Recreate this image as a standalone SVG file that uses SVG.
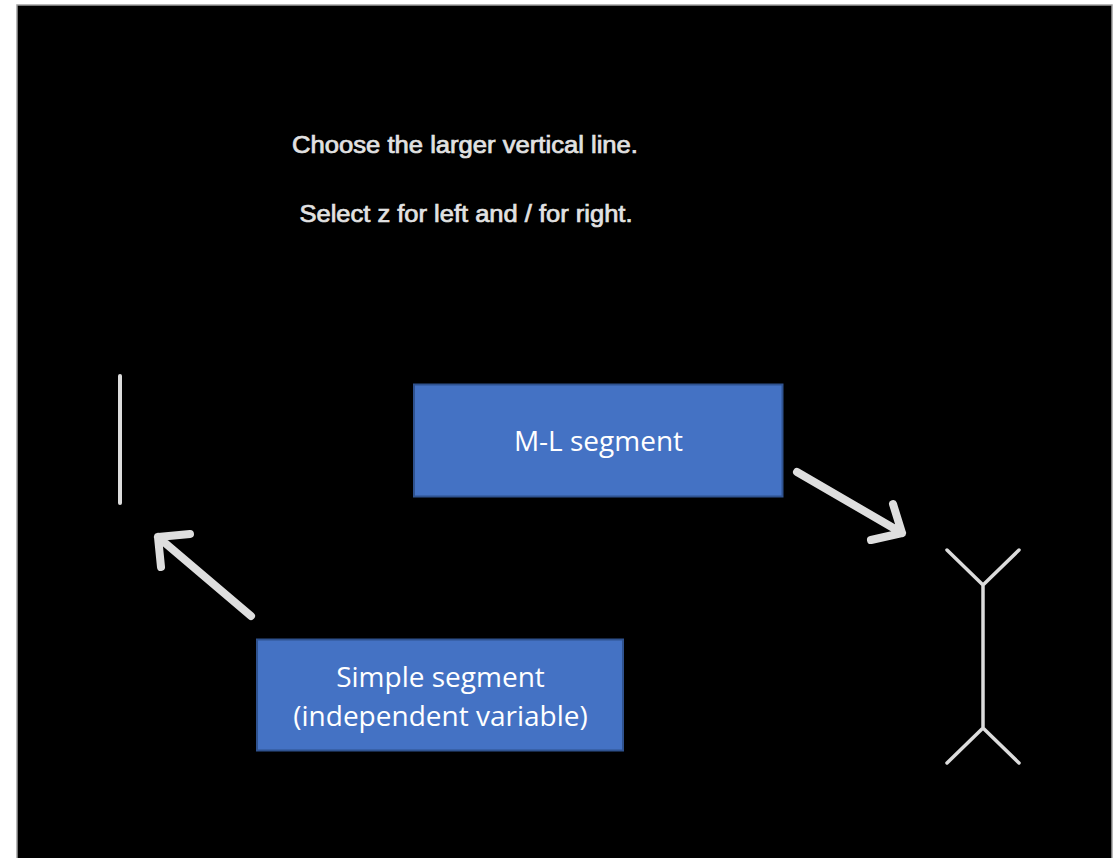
<svg xmlns="http://www.w3.org/2000/svg" width="1114" height="858" viewBox="0 0 1114 858">
<style>
.stim{stroke:#dcdcdc;fill:none;stroke-linecap:round;stroke-linejoin:round}
.arrow{stroke:#dedede;stroke-width:8;fill:none;stroke-linecap:round;stroke-linejoin:round}
.box{fill:#4472C4;stroke:#2F528F;stroke-width:2}
.lbl{font-family:"Open Sans","Noto Sans",sans-serif;font-size:28px;fill:#ffffff;text-anchor:middle}
.instr{font-family:"Liberation Sans",Arial,sans-serif;font-size:23px;fill:#e2e2e2;stroke:#e2e2e2;stroke-width:0.7;text-anchor:middle}
</style>
<rect x="0" y="0" width="1114" height="858" fill="#ffffff"/>
<rect x="17" y="5" width="1095" height="860" fill="#000000" stroke="#a0a0a0" stroke-width="1.5"/>
<g id="instructions">
<text class="instr" x="465" y="153" textLength="346" lengthAdjust="spacingAndGlyphs">Choose the larger vertical line.</text>
<text class="instr" x="466" y="222" textLength="333" lengthAdjust="spacingAndGlyphs">Select z for left and / for right.</text>
</g>
<g id="simple-line">
<line class="stim" x1="120" y1="376" x2="120" y2="503" stroke-width="4"/>
</g>
<g id="ml-figure">
<path class="stim" stroke-width="3.5" d="M983 585 L983 728 M947 550 L983 585 L1019 550 M947 763 L983 728 L1019 763"/>
</g>
<g id="ml-box">
<rect class="box" x="414" y="384.5" width="368.5" height="112"/>
<text class="lbl" x="598.5" y="451">M-L segment</text>
</g>
<g id="simple-box">
<rect class="box" x="257" y="639.5" width="366" height="111"/>
<text class="lbl" x="440.5" y="687">Simple segment</text>
<text class="lbl" x="440.5" y="726">(independent variable)</text>
</g>
<g id="connectors">
<path class="arrow" d="M251 616 L158 537 M190 534 L158 537 L161 567"/>
<path class="arrow" d="M797 472 L902 533 M893 504 L902 533 L871 540"/>
</g>
</svg>
